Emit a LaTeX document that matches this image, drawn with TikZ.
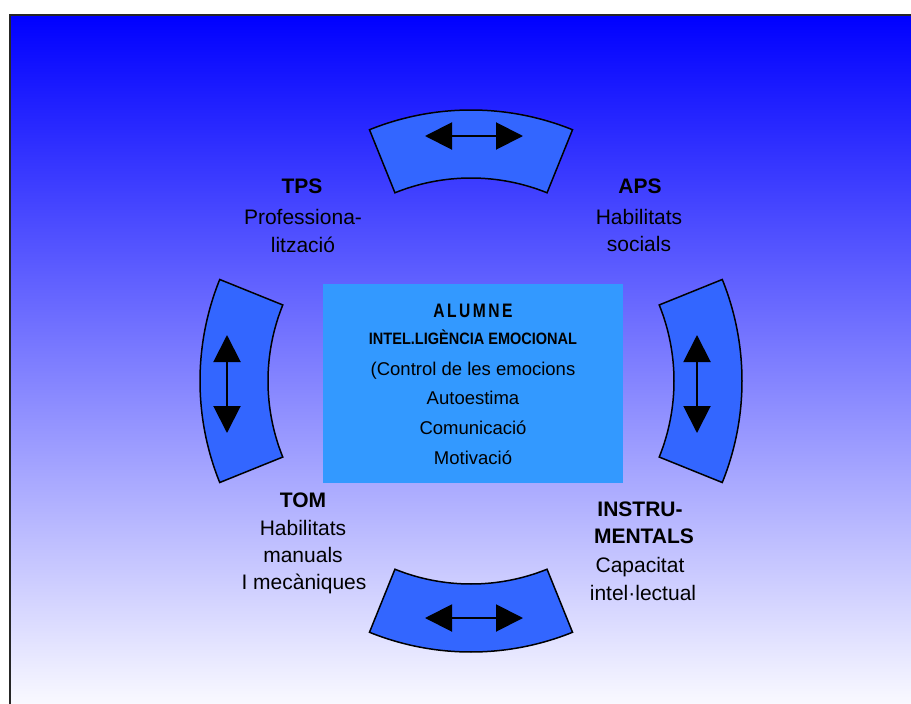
\documentclass[tikz,border=0pt]{standalone}
\usepackage{fontspec}
\setmainfont{Liberation Sans}
\newfontfamily\condfont[FakeStretch=0.88]{Liberation Sans}
\newfontfamily\narrowfont[FakeStretch=0.8]{Liberation Sans}
\usetikzlibrary{arrows.meta,calc}
\definecolor{segblue}{RGB}{51,102,255}
\definecolor{boxblue}{RGB}{51,153,255}
\definecolor{bgtop}{RGB}{0,0,255}
\begin{document}
\begin{tikzpicture}[x=1pt,y=-1pt,
  seg/.style={fill=segblue,draw=black,line width=1.5pt,line join=miter},
  dblarrow/.style={line width=2pt,{Triangle[length=27pt,width=27pt]}-{Triangle[length=27pt,width=27pt]}},
  lab/.style={anchor=base,inner sep=0pt,font=\fontsize{21}{25}\selectfont},
  labb/.style={anchor=base,inner sep=0pt,font=\fontsize{21}{25}\selectfont\bfseries},
  ctext/.style={anchor=base,inner sep=0pt,font=\fontsize{18.5}{22}\selectfont}]
\useasboundingbox (0,0) rectangle (911,704);
\clip (0,0) rectangle (911,704);
\fill[white] (0,0) rectangle (911,704);
\shade[top color=bgtop,bottom color=white] (9.5,14.5) rectangle (930,720);
\draw[line width=2pt,black!85] (9.5,14.5) rectangle (930,720);
% ring segments
\coordinate (c) at (471,381);
\foreach \a in {0,90,180,270}{
  \draw[seg] ($(c)+(\a-22:271)$) arc[start angle=\a-22,end angle=\a+22,radius=271]
    -- ($(c)+(\a+22:203)$) arc[start angle=\a+22,end angle=\a-22,radius=203] -- cycle;
}
% arrows
\coordinate (t1) at (425,136); \coordinate (t2) at (523,136);
\coordinate (b1) at (425,618); \coordinate (b2) at (523,618);
\coordinate (l1) at (227,335); \coordinate (l2) at (227,433);
\coordinate (r1) at (697,335); \coordinate (r2) at (697,433);
\draw[dblarrow] (t1) -- (t2);
\draw[dblarrow] (b1) -- (b2);
\draw[dblarrow] (l1) -- (l2);
\draw[dblarrow] (r1) -- (r2);
% centre box
\node[fill=boxblue,minimum width=300pt,minimum height=199pt,inner sep=0pt] (box) at (473,383.5) {};
\node[ctext,font=\narrowfont\bfseries\fontsize{19.5}{22}\selectfont] (alumne) at (473,317) {A\kern2.5pt L\kern2.5pt U\kern2.5pt M\kern2.5pt N\kern2.5pt E};
\node[ctext,font=\condfont\bfseries\fontsize{16.5}{20}\selectfont] (intel) at (473,344) {INTEL.LIGÈNCIA EMOCIONAL};
\node[ctext] (c1) at (473,375) {(Control de les emocions};
\node[ctext] (c2) at (473,404) {Autoestima};
\node[ctext] (c3) at (473,434) {Comunicació};
\node[ctext] (c4) at (473,464) {Motivació};
% labels
\node[labb] (tps1) at (302,193) {TPS};
\node[lab] (tps2) at (303,224) {Professiona-};
\node[lab] (tps3) at (303,252) {lització};
\node[labb] (aps1) at (640,193) {APS};
\node[lab] (aps2) at (639,224) {Habilitats};
\node[lab] (aps3) at (639,251) {socials};
\node[labb] (tom1) at (303,507) {TOM};
\node[lab] (tom2) at (303,535) {Habilitats};
\node[lab] (tom3) at (303,562) {manuals};
\node[lab] (tom4) at (304,589) {I mecàniques};
\node[labb] (ins1) at (640,516) {INSTRU-};
\node[labb] (ins2) at (644,543) {MENTALS};
\node[lab] (ins3) at (640,572) {Capacitat};
\node[lab] (ins4) at (643,600) {intel·lectual};
\end{tikzpicture}
\end{document}
